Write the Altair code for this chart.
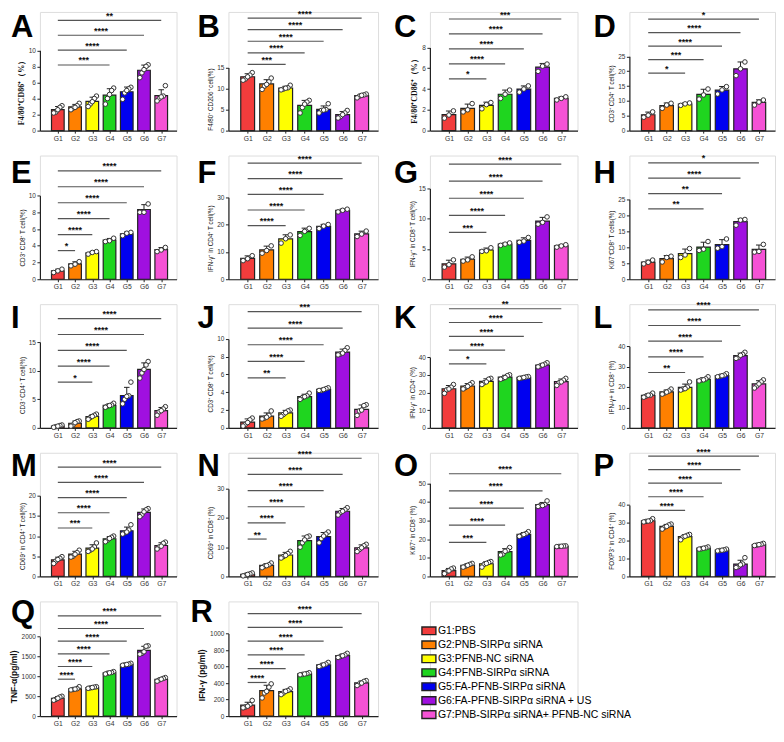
import altair as alt
import pandas as pd

GROUPS = [1, 2, 3, 4, 5, 6, 7]
LEGEND_LABELS = ["G1:PBS", "G2:PNB-SIRPα siRNA", "G3:PFNB-NC siRNA", "G4:PFNB-SIRPα siRNA",
                 "G5:FA-PFNB-SIRPα siRNA", "G6:FA-PFNB-SIRPα siRNA + US",
                 "G7:PNB-SIRPα siRNA+ PFNB-NC siRNA"]
COLORS = ["#F23C3C", "#FF8000", "#FFFF00", "#1FD51F", "#0000F0", "#A010E0", "#F552D5"]

# ---- individual replicate values per group (G1..G7) ----
A_DOTS = [[2.3, 3.1, 2.2, 2.9, 2.6], [2.8, 3.4, 2.6, 3.1, 2.9], [3.3, 4.3, 3.0, 4.0, 3.6],
          [4.0, 5.3, 3.3, 5.0, 4.5], [4.7, 5.4, 3.9, 5.2, 5.0], [7.2, 8.2, 6.6, 8.0, 7.6],
          [4.0, 5.6, 3.7, 4.3, 4.2]]
B_DOTS = [[12.3, 13.8, 12.0, 13.2, 12.8], [10.6, 12.5, 9.8, 11.6, 11.0], [9.9, 10.8, 9.7, 10.2, 10.1],
          [5.5, 7.2, 4.2, 6.8, 6.3], [4.8, 6.4, 4.2, 5.0, 4.9], [3.3, 4.8, 3.0, 4.2, 3.8],
          [8.2, 8.7, 7.8, 8.5, 8.4]]
C_DOTS = [[1.2, 1.9, 1.5], [1.8, 2.6, 2.0], [2.1, 2.7, 2.5], [3.1, 3.9, 3.5], [3.7, 4.3, 4.0],
          [5.7, 6.4, 6.2], [2.95, 3.25, 3.1]]
D_DOTS = [[4.5, 6.3, 5.2], [7.5, 9.2, 8.6], [8.5, 9.3, 9.0], [10.6, 14.0, 12.0], [12.3, 14.8, 13.7],
          [18.5, 23.1, 20.8], [8.6, 10.3, 9.6]]
E_DOTS = [[0.8, 1.2, 1.0], [1.6, 2.1, 1.8], [3.0, 3.3, 3.2], [4.5, 4.9, 4.6], [5.2, 5.6, 5.5],
          [8.0, 9.0, 8.0], [3.3, 3.8, 3.5]]
F_DOTS = [[6.8, 8.6, 7.5], [9.5, 12.2, 10.5], [13.2, 16.2, 14.8], [16.0, 18.6, 17.5], [18.5, 20.0, 19.4],
          [24.6, 25.6, 25.2], [15.6, 17.6, 16.5]]
G_DOTS = [[2.0, 3.2, 2.4], [3.0, 3.7, 3.2], [4.6, 5.2, 4.7], [5.6, 6.0, 5.8], [6.1, 6.9, 6.3],
          [9.1, 10.3, 9.4], [5.3, 5.7, 5.5]]
H_DOTS = [[4.8, 6.0, 5.3], [5.4, 7.2, 6.8], [6.8, 9.6, 7.6], [9.0, 11.8, 9.4], [9.7, 12.6, 10.2],
          [16.9, 18.7, 18.5], [8.5, 10.9, 8.7]]
I_DOTS = [[0.2, 0.5, 0.1, 0.4, 0.3], [0.5, 1.2, 0.3, 1.1, 0.9], [1.8, 2.4, 1.5, 2.2, 2.0],
          [3.8, 4.3, 3.6, 4.0, 3.9], [5.0, 8.0, 4.2, 5.6, 5.5], [9.6, 11.6, 8.7, 11.0, 10.2],
          [2.8, 3.7, 2.2, 3.3, 3.0]]
J_DOTS = [[0.4, 1.1, 0.2, 0.9, 0.6], [1.1, 1.9, 1.0, 1.4, 1.2], [1.5, 2.0, 1.3, 1.9, 1.7],
          [3.4, 3.9, 3.2, 3.6, 3.5], [4.2, 4.5, 4.2, 4.4, 4.3], [8.3, 9.0, 8.2, 8.7, 8.4],
          [1.9, 2.6, 1.4, 2.5, 2.0]]
K_DOTS = [[21.5, 24.5, 19.5, 23.0, 22.0], [22.8, 25.5, 22.0, 24.5, 23.5], [25.5, 28.0, 24.5, 27.5, 26.0],
          [28.0, 30.0, 27.5, 29.5, 28.5], [28.2, 29.0, 28.0, 28.8, 28.5], [35.0, 36.8, 34.5, 36.0, 35.5],
          [25.5, 28.0, 24.0, 27.0, 26.0]]
L_DOTS = [[15.5, 17.0, 15.0, 16.0, 16.0], [17.0, 19.0, 16.5, 18.0, 17.5], [19.0, 22.5, 18.5, 20.0, 19.2],
          [23.5, 25.0, 23.0, 24.0, 23.5], [25.2, 26.5, 25.0, 25.8, 25.5], [34.5, 37.0, 34.0, 36.0, 35.5],
          [20.5, 23.5, 19.5, 22.5, 21.5]]
M_DOTS = [[3.8, 4.9, 3.2, 4.5, 4.2], [5.0, 6.5, 4.8, 5.9, 5.5], [6.5, 8.3, 6.2, 7.3, 6.8],
          [9.0, 10.0, 8.6, 9.7, 9.4], [10.8, 12.8, 10.5, 11.5, 11.0], [15.3, 16.8, 14.8, 16.5, 16.0],
          [7.3, 8.5, 6.8, 8.2, 7.5]]
N_DOTS = [[0.4, 1.2, 0.2, 0.9, 0.7], [3.5, 4.6, 3.0, 4.0, 3.7], [6.8, 8.6, 6.3, 7.8, 7.2],
          [11.5, 13.8, 10.0, 13.5, 12.5], [13.0, 15.2, 11.5, 14.5, 13.8], [21.8, 23.5, 21.0, 22.8, 22.3],
          [9.2, 11.0, 8.5, 10.5, 9.8]]
O_DOTS = [[2.5, 4.5, 1.5, 4.0, 3.0], [5.5, 7.0, 5.0, 6.5, 6.0], [6.5, 8.0, 5.0, 7.5, 7.0],
          [12.0, 15.5, 11.5, 14.0, 13.5], [22.0, 24.0, 21.5, 23.0, 22.5], [38.0, 40.5, 37.5, 38.5, 38.0],
          [16.1, 16.4, 16.0, 16.3, 16.2]]
P_DOTS = [[30.8, 32.3, 30.5, 31.2, 31.0], [27.5, 29.3, 26.5, 28.8, 28.0], [22.0, 23.5, 20.5, 23.0, 22.5],
          [15.5, 16.5, 15.3, 16.0, 15.8], [14.5, 15.3, 14.3, 14.9, 14.7], [5.5, 10.5, 5.0, 7.0, 6.5],
          [17.5, 18.5, 17.3, 18.0, 17.8]]
Q_DOTS = [[420, 500, 400, 480, 450], [670, 740, 660, 690, 680], [710, 740, 700, 730, 720],
          [1080, 1120, 1060, 1100, 1090], [1290, 1330, 1280, 1310, 1300], [1580, 1770, 1560, 1760, 1620],
          [910, 970, 880, 950, 930]]
R_DOTS = [[110, 190, 100, 140, 120], [280, 390, 220, 350, 300], [280, 330, 260, 310, 300],
          [505, 525, 500, 515, 510], [610, 650, 600, 630, 620], [720, 760, 710, 740, 730],
          [390, 430, 370, 420, 400]]

# ---- y ticks ----
A_TICKS = [0, 2, 4, 6, 8, 10]
B_TICKS = [0, 5, 10, 15]
C_TICKS = [0, 2, 4, 6, 8]
D_TICKS = [0, 5, 10, 15, 20, 25]
E_TICKS = [0, 2, 4, 6, 8, 10]
F_TICKS = [0, 10, 20, 30]
G_TICKS = [0, 5, 10, 15]
H_TICKS = [0, 5, 10, 15, 20, 25]
I_TICKS = [0, 5, 10, 15]
J_TICKS = [0, 2, 4, 6, 8, 10]
K_TICKS = [0, 10, 20, 30, 40]
L_TICKS = [0, 10, 20, 30, 40]
M_TICKS = [0, 5, 10, 15, 20]
N_TICKS = [0, 10, 20, 30]
O_TICKS = [0, 10, 20, 30, 40, 50]
P_TICKS = [0, 10, 20, 30, 40]
Q_TICKS = [0, 500, 1000, 1500, 2000]
R_TICKS = [0, 200, 400, 600, 800, 1000]

# ---- significance comparisons vs G1 ----
A_CMP, A_SIG = [4, 5, 6, 7], ["***", "****", "****", "**"]
B_CMP, B_SIG = [3, 4, 5, 6, 7], ["***", "****", "****", "****", "****"]
C_CMP, C_SIG = [3, 4, 5, 6, 7], ["*", "****", "****", "****", "***"]
D_CMP, D_SIG = [3, 4, 5, 6, 7], ["*", "***", "****", "****", "*"]
E_CMP, E_SIG = [2, 3, 4, 5, 6, 7], ["*", "****", "****", "****", "****", "****"]
F_CMP, F_SIG = [3, 4, 5, 6, 7], ["****", "****", "****", "****", "****"]
G_CMP, G_SIG = [3, 4, 5, 6, 7], ["***", "****", "****", "****", "****"]
H_CMP, H_SIG = [4, 5, 6, 7], ["**", "**", "****", "*"]
I_CMP, I_SIG = [3, 4, 5, 6, 7], ["*", "****", "****", "****", "****"]
J_CMP, J_SIG = [3, 4, 5, 6, 7], ["**", "****", "****", "****", "***"]
K_CMP, K_SIG = [3, 4, 5, 6, 7], ["*", "****", "****", "****", "**"]
L_CMP, L_SIG = [3, 4, 5, 6, 7], ["**", "****", "****", "****", "****"]
M_CMP, M_SIG = [3, 4, 5, 6, 7], ["***", "****", "****", "****", "****"]
N_CMP, N_SIG = [2, 3, 4, 5, 6, 7], ["**", "****", "****", "****", "****", "****"]
O_CMP, O_SIG = [3, 4, 5, 6, 7], ["***", "****", "****", "****", "****"]
P_CMP, P_SIG = [3, 4, 5, 6, 7], ["****", "****", "****", "****", "****"]
Q_CMP, Q_SIG = [2, 3, 4, 5, 6, 7], ["****"] * 6
R_CMP, R_SIG = [2, 3, 4, 5, 6, 7], ["****"] * 6

TITLES = {
    "A": "F4/80⁺CD86⁺（%）", "B": "F4/80⁺ CD206⁺ cell(%)", "C": "F4/80⁺CD86⁺（%）",
    "D": "CD3⁺ CD4⁺ T cell(%)", "E": "CD3⁺ CD8⁺ T cell(%)", "F": "IFN-γ⁺ in CD4⁺ T cell(%)",
    "G": "IFN-γ⁺ in CD8⁺ T cell(%)", "H": "Ki67⁺CD8⁺ T cells(%)", "I": "CD3⁺ CD4⁺ T cell(%)",
    "J": "CD3⁺ CD8⁺ T cell(%)", "K": "IFN-γ⁺ in CD4⁺ (%)", "L": "IFN-γ+ in CD8⁺ (%)",
    "M": "CD69⁺ in CD4⁺ T cell(%)", "N": "CD69⁺ in CD8⁺ (%)", "O": "Ki67⁺ in CD8⁺ (%)",
    "P": "FOXP3⁺ in CD4⁺ (%)", "Q": "TNF-α(pg/ml)", "R": "IFN-γ (pg/ml)",
}

PANELS = [
    ("A", A_DOTS, A_TICKS, A_CMP, A_SIG), ("B", B_DOTS, B_TICKS, B_CMP, B_SIG),
    ("C", C_DOTS, C_TICKS, C_CMP, C_SIG), ("D", D_DOTS, D_TICKS, D_CMP, D_SIG),
    ("E", E_DOTS, E_TICKS, E_CMP, E_SIG), ("F", F_DOTS, F_TICKS, F_CMP, F_SIG),
    ("G", G_DOTS, G_TICKS, G_CMP, G_SIG), ("H", H_DOTS, H_TICKS, H_CMP, H_SIG),
    ("I", I_DOTS, I_TICKS, I_CMP, I_SIG), ("J", J_DOTS, J_TICKS, J_CMP, J_SIG),
    ("K", K_DOTS, K_TICKS, K_CMP, K_SIG), ("L", L_DOTS, L_TICKS, L_CMP, L_SIG),
    ("M", M_DOTS, M_TICKS, M_CMP, M_SIG), ("N", N_DOTS, N_TICKS, N_CMP, N_SIG),
    ("O", O_DOTS, O_TICKS, O_CMP, O_SIG), ("P", P_DOTS, P_TICKS, P_CMP, P_SIG),
    ("Q", Q_DOTS, Q_TICKS, Q_CMP, Q_SIG), ("R", R_DOTS, R_TICKS, R_CMP, R_SIG),
]

# ---- layout (pixels) ----
COL_W = [137, 150, 148, 146]
ROW_H = [119, 124, 124, 124, 115]
# plot-area top, lowest bracket y, bracket step (local px inside each panel view)
GEOM = {
    "A": (38.5, 53.2, 14.9), "B": (55.8, 52.6, 11.6), "C": (35.6, 67.1, 15.0), "D": (44.5, 61.3, 13.5),
    "E": (40.1, 95.3, 16.0), "F": (41.7, 70.3, 15.7), "G": (33.0, 77.0, 17.1), "H": (43.9, 53.5, 15.4),
    "I": (38.0, 78.1, 15.9), "J": (34.8, 73.9, 16.6), "K": (53.1, 59.8, 13.8), "L": (42.1, 68.5, 15.7),
    "M": (43.0, 75.4, 15.25), "N": (36.0, 86.5, 16.2), "O": (30.5, 89.8, 17.2), "P": (52.3, 57.7, 13.6),
    "Q": (35.4, 78.0, 12.7), "R": (32.2, 81.3, 13.8),
}
LETTER_DX = [-29, -31, -36, -36]
LETTER_DX_OVERRIDE = {"R": -38}
LETTER_TOP = [3, 5, 1.5, 1, -1.5]
JIT = {5: [1, 4, 0, 3, 2], 3: [0, 2, 1], 4: [0, 3, 1, 2]}
XDOM = [0.25, 7.6]

FONT = "Liberation Sans"
INK = "#222222"
cscale = alt.Scale(domain=LEGEND_LABELS, range=COLORS)


def make_panel(idx, key, dots, ticks, cmp, sig):
    col, row = idx % 4, idx // 4
    W, H = COL_W[col], ROW_H[row]
    top, br0, brstep = GEOM[key]
    ymax = ticks[-1]
    plotH = H - top

    recs = []
    for gi, vals in enumerate(dots):
        n = len(vals)
        order = JIT[n]
        for r, v in enumerate(vals):
            recs.append({"g": gi + 1, "label": LEGEND_LABELS[gi], "v": v,
                         "xj": gi + 1 + (order[r] / (n - 1) - 0.5) * 0.48})
    df = pd.DataFrame(recs)

    brs = []
    for i, (k, s) in enumerate(zip(cmp, sig)):
        p = br0 - i * brstep
        brs.append({"x1": 1, "x2": k, "xm": (1 + k) / 2, "yv": (H - p) / plotH * ymax, "s": s})
    bdf = pd.DataFrame(brs)

    step = W / (XDOM[1] - XDOM[0])
    xs = alt.Scale(domain=XDOM, nice=False, zero=False)
    ys = alt.Scale(domain=[0, ymax], range=[H, top], nice=False, zero=True)

    if key in ("A", "C"):
        tfont, tsize, tweight = "Liberation Serif", 8, "bold"
    elif key in ("Q", "R"):
        tfont, tsize, tweight = FONT, 8.5, "bold"
    else:
        tfont, tsize, tweight = FONT, 6.3, "normal"

    xaxis = alt.Axis(values=GROUPS, labelExpr="'G' + datum.value", title="", grid=False,
                     tickSize=2.5, labelFontSize=6.8, labelPadding=2, labelOverlap=False,
                     labelFlush=False, domainColor=INK, tickColor=INK, labelColor="#333",
                     domainWidth=1.2, tickWidth=1, labelFont=FONT)
    yaxis = alt.Axis(values=ticks, title=TITLES[key], grid=False, format="d", tickSize=3,
                     labelFontSize=6.5, labelPadding=1.5, titlePadding=3, domainColor=INK,
                     tickColor=INK, labelColor="#333", titleColor="#111", domainWidth=1.2,
                     tickWidth=1, labelFont=FONT, titleFont=tfont, titleFontSize=tsize,
                     titleFontWeight=tweight)

    base = alt.Chart(df)
    agg = base.transform_aggregate(mean="mean(v)", sd="stdev(v)", groupby=["g", "label"])

    bars = agg.mark_bar(orient="vertical", size=0.68 * step, stroke=INK, strokeWidth=1.2).encode(
        x=alt.X("g:Q", scale=xs, axis=xaxis),
        y=alt.Y("mean:Q", scale=ys, axis=yaxis),
        color=alt.Color("label:N", scale=cscale, legend=None),
    )
    err = agg.transform_calculate(top="datum.mean + datum.sd").mark_rule(
        color=INK, strokeWidth=1).encode(
        x=alt.X("g:Q", scale=xs, axis=xaxis),
        y=alt.Y("mean:Q", scale=ys, axis=yaxis),
        y2="top:Q",
    )
    cap = agg.transform_calculate(top="datum.mean + datum.sd", xl="datum.g - 0.16",
                                  xr="datum.g + 0.16").mark_rule(color=INK, strokeWidth=1).encode(
        x=alt.X("xl:Q", scale=xs, axis=xaxis),
        x2="xr:Q",
        y=alt.Y("top:Q", scale=ys, axis=yaxis),
    )
    pts = base.mark_circle(color="white", stroke="#333333", strokeWidth=1, size=21,
                           opacity=1).encode(
        x=alt.X("xj:Q", scale=xs, axis=xaxis),
        y=alt.Y("v:Q", scale=ys, axis=yaxis),
    )
    blines = alt.Chart(bdf).mark_rule(color="#555555", strokeWidth=1.2).encode(
        x=alt.X("x1:Q", scale=xs, axis=xaxis),
        x2="x2:Q",
        y=alt.Y("yv:Q", scale=ys, axis=yaxis),
    )
    btext = alt.Chart(bdf).mark_text(fontSize=9, fontWeight="bold", font=FONT, color="#111",
                                     baseline="alphabetic", dy=-1.5).encode(
        x=alt.X("xm:Q", scale=xs, axis=xaxis),
        y=alt.Y("yv:Q", scale=ys, axis=yaxis),
        text="s:N",
    )
    ldx = LETTER_DX_OVERRIDE.get(key, LETTER_DX[col])
    letter = alt.Chart(pd.DataFrame({"t": [key]})).mark_text(
        fontSize=31, fontWeight="bold", font=FONT, color="black", align="left",
        baseline="alphabetic").encode(
        x=alt.value(ldx), y=alt.value(LETTER_TOP[row] + 22.5), text="t:N")

    return alt.layer(bars, err, cap, pts, blines, btext, letter).properties(width=W, height=H)


charts = [make_panel(i, *p) for i, p in enumerate(PANELS)]

# legend panel (row 5, column 3)
leg_df = pd.DataFrame({"label": LEGEND_LABELS})
ly = alt.Scale(type="point", domain=LEGEND_LABELS, range=[29.5, 113.5], padding=0)
sw = alt.Chart(leg_df).mark_point(shape="M-1,-0.55H1V0.55H-1Z", size=196, filled=True,
                                  stroke=INK, strokeWidth=1.4, opacity=1).encode(
    x=alt.value(-1),
    y=alt.Y("label:N", scale=ly, axis=None),
    color=alt.Color("label:N", scale=cscale, legend=None),
)
lt = alt.Chart(leg_df).mark_text(align="left", baseline="middle", fontSize=10.5, font=FONT,
                                 color="black").encode(
    x=alt.value(8),
    y=alt.Y("label:N", scale=ly, axis=None),
    text="label:N",
)
legend_panel = alt.layer(sw, lt).properties(width=COL_W[2], height=ROW_H[4])
charts.append(legend_panel)

chart = alt.ConcatChart(
    concat=charts, columns=4, spacing={"row": 25, "column": 52}, bounds="flush",
    padding={"left": 0, "top": 0, "right": 0, "bottom": 0},
).configure_view(stroke=None).configure(background="white")

chart.save("out.html", embed_options={"renderer": "svg", "actions": False})
